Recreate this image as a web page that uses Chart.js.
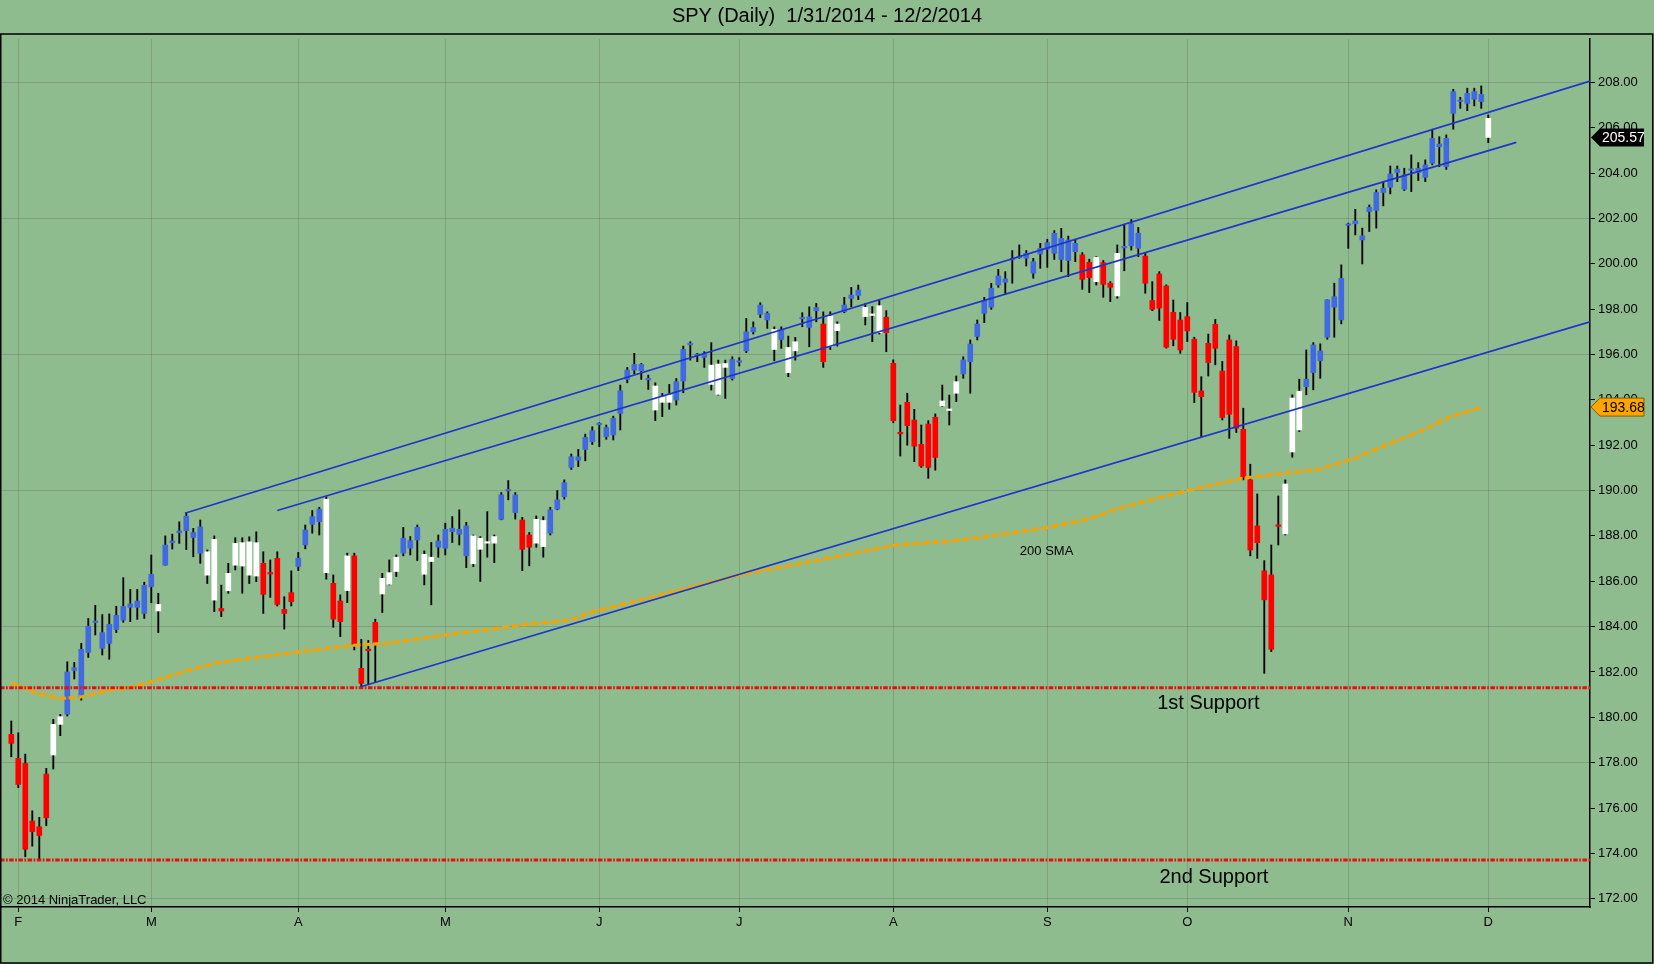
<!DOCTYPE html>
<html>
<head>
<meta charset="utf-8">
<title>SPY (Daily)</title>
<script src="https://cdn.jsdelivr.net/npm/chart.js@4.4.1/dist/chart.umd.min.js"></script>
<style>
	html, body { margin: 0; padding: 0; background: #8fbc8f; }
	canvas { display: block; }
</style>
</head>
<body>
<canvas id="spy-chart" width="1654" height="964"></canvas>
<script>
// 차트
var SPYChart;

// 차트 제목
var chartTitle = 'SPY (Daily)  1/31/2014 - 12/2/2014';

// 봉 시가 (1/30 ~ 12/1)
var opens = [
	179.25, 178.19, 177.97, 175.43, 175.18, 177.50, 178.34, 179.69, 180.14, 182.07,
	180.88, 182.86, 184.18, 183.04, 183.26, 183.87, 184.29, 184.85, 184.85, 184.58,
	185.76, 184.69, 186.71, 187.70, 188.14, 188.23, 187.93, 187.23, 186.27, 185.17,
	184.80, 185.58, 186.71, 186.67, 186.27, 186.23, 186.79, 186.38, 187.01, 184.76,
	185.50, 186.65, 187.60, 188.51, 188.63, 186.38, 185.91, 185.13, 185.59, 187.12,
	182.16, 183.00, 184.19, 185.44, 185.87, 186.43, 187.24, 187.46, 187.82, 186.31,
	186.87, 187.50, 187.46, 188.19, 188.07, 187.12, 186.77, 187.41, 187.68, 187.68,
	188.73, 189.98, 189.03, 188.70, 188.04, 187.68, 187.53, 188.12, 189.18, 189.73,
	191.02, 191.34, 191.81, 192.15, 192.90, 192.37, 192.45, 193.40, 194.90, 195.31,
	195.28, 194.88, 193.55, 193.89, 193.89, 193.99, 194.83, 196.42, 195.95, 195.87,
	194.68, 194.24, 195.43, 194.94, 195.66, 196.16, 197.00, 197.77, 197.52, 196.22,
	196.66, 195.20, 196.16, 197.57, 197.19, 197.93, 197.34, 196.34, 197.05, 197.88,
	198.47, 198.60, 197.67, 197.72, 196.96, 197.64, 195.61, 192.54, 193.89, 193.11,
	192.04, 192.93, 193.23, 193.73, 193.53, 194.29, 195.14, 195.68, 196.79, 197.81,
	198.08, 199.06, 199.18, 200.17, 200.26, 200.24, 199.58, 200.43, 200.64, 200.46,
	200.19, 200.14, 200.53, 200.39, 200.06, 199.21, 200.05, 199.14, 198.58, 200.70,
	200.79, 200.68, 200.34, 198.38, 199.55, 199.02, 197.86, 197.52, 197.67, 196.67,
	194.39, 196.49, 197.33, 195.27, 196.64, 196.35, 192.70, 190.47, 188.44, 186.46,
	186.28, 188.48, 188.09, 191.70, 192.67, 194.58, 195.20, 195.72, 196.76, 198.08,
	197.52, 201.69, 201.76, 201.05, 202.30, 202.35, 203.14, 203.37, 204.02, 203.29,
	204.12, 204.02, 203.81, 204.43, 205.16, 204.28, 206.63, 207.15, 207.07, 207.25,
	207.15, 206.41
];
// 고가
var highs = [
	179.84, 179.32, 178.38, 175.88, 175.59, 177.75, 179.91, 180.13, 182.45, 182.42,
	183.26, 184.36, 184.94, 184.53, 184.56, 184.90, 186.16, 185.64, 185.64, 185.96,
	187.16, 185.47, 188.00, 188.08, 188.62, 189.02, 188.33, 188.70, 187.38, 188.00,
	185.83, 186.79, 187.92, 187.92, 187.96, 188.18, 187.30, 186.94, 187.30, 185.32,
	186.46, 187.27, 188.48, 189.12, 189.26, 189.73, 186.28, 185.40, 187.24, 187.24,
	183.44, 183.39, 184.33, 186.35, 186.94, 187.16, 188.38, 187.97, 188.48, 187.34,
	187.71, 188.04, 188.56, 188.85, 189.15, 188.60, 188.04, 187.97, 189.07, 188.04,
	189.91, 190.44, 189.91, 188.82, 188.15, 188.88, 188.85, 189.26, 190.00, 190.47,
	191.61, 191.81, 192.49, 192.81, 192.99, 192.89, 193.28, 194.65, 195.43, 196.05,
	195.60, 195.09, 194.75, 194.28, 194.68, 194.94, 196.37, 196.56, 196.05, 196.12,
	196.52, 195.75, 195.75, 195.90, 195.86, 197.59, 197.44, 198.28, 197.88, 197.22,
	197.22, 196.81, 196.75, 197.84, 198.10, 198.25, 197.88, 197.88, 197.44, 198.52,
	198.96, 199.06, 198.25, 198.11, 198.43, 197.93, 195.76, 193.77, 194.29, 193.58,
	192.89, 193.08, 193.38, 194.65, 194.21, 195.05, 195.90, 196.64, 197.52, 198.52,
	199.14, 199.75, 199.65, 200.58, 200.83, 200.58, 200.24, 200.90, 201.08, 201.46,
	201.56, 201.22, 201.08, 200.49, 200.20, 200.31, 200.14, 199.21, 200.83, 201.71,
	201.95, 201.60, 200.46, 199.21, 199.65, 199.07, 198.40, 197.85, 198.29, 196.76,
	195.02, 196.90, 197.55, 195.69, 196.86, 196.60, 193.63, 191.16, 189.85, 186.91,
	187.60, 189.76, 190.47, 194.22, 194.91, 196.20, 196.52, 196.47, 198.41, 199.14,
	199.95, 201.79, 202.40, 201.57, 202.59, 203.26, 203.62, 204.31, 204.31, 204.21,
	204.80, 204.46, 204.58, 205.93, 205.60, 205.68, 207.69, 207.34, 207.74, 207.74,
	207.84, 206.56
];
// 저가
var lows = [
	178.26, 176.90, 173.85, 174.32, 173.71, 175.22, 177.72, 179.19, 180.06, 181.69,
	180.76, 182.64, 183.63, 182.75, 182.56, 183.74, 184.19, 184.22, 184.32, 184.36,
	185.05, 183.74, 186.71, 187.42, 187.67, 187.40, 187.08, 186.79, 185.90, 184.66,
	184.44, 185.47, 186.50, 185.47, 185.90, 185.98, 184.58, 185.29, 184.91, 183.89,
	184.91, 186.47, 187.43, 188.12, 188.04, 186.09, 183.97, 183.56, 185.06, 182.97,
	181.33, 181.43, 181.55, 184.62, 185.84, 186.21, 187.12, 187.16, 186.91, 185.84,
	184.96, 187.06, 187.16, 187.71, 187.60, 186.60, 186.65, 185.99, 187.06, 186.82,
	188.71, 189.59, 188.74, 186.47, 186.68, 187.50, 187.06, 188.04, 189.15, 189.62,
	190.93, 191.05, 191.31, 192.03, 191.93, 192.26, 192.23, 192.67, 194.75, 195.14,
	194.90, 194.46, 193.08, 193.26, 193.58, 193.77, 194.31, 195.75, 195.68, 195.43,
	194.43, 194.21, 194.06, 194.87, 195.49, 196.08, 196.90, 197.63, 197.15, 195.72,
	196.27, 195.02, 195.75, 197.22, 196.34, 197.44, 195.43, 196.22, 196.37, 197.84,
	198.10, 198.42, 197.30, 196.56, 196.90, 196.12, 192.99, 191.52, 192.00, 191.27,
	191.02, 190.54, 190.90, 193.70, 192.89, 193.92, 194.95, 194.29, 196.64, 197.40,
	197.99, 198.96, 198.67, 199.14, 200.24, 199.90, 199.36, 199.80, 199.84, 200.19,
	199.65, 199.43, 200.09, 198.87, 198.73, 199.06, 198.52, 198.33, 198.48, 199.69,
	200.60, 200.31, 198.70, 197.93, 197.50, 196.28, 196.38, 196.05, 196.57, 193.88,
	192.38, 195.05, 195.54, 193.11, 192.30, 192.56, 190.47, 187.12, 187.01, 181.94,
	182.90, 187.60, 188.04, 191.47, 192.60, 194.22, 194.44, 194.95, 196.67, 196.76,
	197.35, 200.68, 201.27, 199.99, 201.42, 201.57, 202.55, 203.08, 203.62, 203.23,
	203.18, 203.67, 203.62, 204.36, 204.28, 204.16, 205.93, 206.85, 206.75, 206.96,
	206.85, 205.34
];
// 종가
var closes = [
	178.85, 177.04, 174.18, 174.96, 174.79, 175.57, 179.69, 180.03, 182.00, 182.19,
	183.00, 184.02, 184.24, 183.74, 184.10, 184.50, 184.89, 185.00, 185.13, 185.82,
	186.30, 184.98, 187.60, 187.78, 188.22, 188.87, 188.15, 188.40, 187.30, 187.85,
	184.69, 186.35, 187.67, 187.70, 187.74, 187.70, 185.42, 186.32, 184.98, 184.58,
	185.10, 187.02, 188.26, 188.85, 189.18, 189.62, 184.33, 184.22, 187.12, 183.22,
	181.50, 182.94, 183.27, 186.13, 186.38, 187.06, 187.90, 187.79, 188.38, 187.19,
	187.06, 187.78, 188.29, 188.34, 188.29, 188.44, 188.00, 187.90, 187.74, 187.97,
	189.81, 190.04, 189.81, 187.41, 187.50, 188.73, 188.68, 189.15, 189.59, 190.35,
	191.49, 191.49, 192.34, 192.64, 192.95, 192.78, 193.18, 194.40, 195.31, 195.56,
	195.56, 194.92, 194.61, 194.14, 194.21, 194.80, 196.22, 196.46, 195.99, 196.02,
	195.53, 195.58, 195.60, 195.78, 195.72, 197.00, 197.19, 198.18, 197.81, 197.10,
	197.10, 196.31, 196.56, 197.61, 197.66, 198.07, 195.68, 197.69, 197.34, 198.18,
	198.62, 198.84, 198.08, 197.76, 198.15, 196.96, 193.08, 192.50, 192.86, 191.96,
	191.08, 191.02, 191.46, 193.95, 193.57, 194.80, 195.76, 196.46, 197.34, 198.37,
	198.92, 199.46, 199.33, 200.21, 200.30, 200.46, 200.09, 200.68, 200.93, 201.34,
	201.12, 201.05, 200.90, 199.31, 199.39, 200.28, 199.09, 198.96, 200.46, 200.76,
	201.77, 201.35, 199.14, 197.99, 198.04, 196.32, 196.67, 196.20, 197.04, 194.33,
	194.14, 195.64, 196.27, 193.22, 193.36, 192.75, 190.59, 187.38, 187.70, 185.18,
	183.00, 188.42, 190.29, 194.08, 194.38, 194.91, 196.42, 196.16, 198.41, 198.55,
	199.36, 201.73, 201.89, 201.23, 202.49, 203.14, 203.33, 203.96, 204.17, 203.92,
	204.16, 204.21, 204.36, 205.53, 205.28, 205.53, 207.59, 207.21, 207.51, 207.59,
	207.47, 205.57
];
// 봉 색상 코드 (B 파랑, W 흰색, R 빨강)
var candleCodes = (
	'RRRRRRWWBBBBBBBBBBBB' +
	'BWBBBBBBWWRWWWWWRRRR' +
	'RBBBBWRRWRRRRWWWBBBW' +
	'WBBBBBWWWWBBBRRWWBBB' +
	'BBBBBBBBBBBBWWWBBBBB' +
	'WWWBBBBBBWBWWBBBRWWB' +
	'BBWWWRRRRRRRRWWWBBBB' +
	'BBBBBBBBBBBBBRRWRRWB' +
	'BBRRRRRRRRRRRRRRRRRR' +
	'RRWWWBBBBBBBBBBBBBBB' +
	'BBBBBBBBBBBW'
).split('');

// 200 SMA (봉 번호, 값)
var smaIndex = [0, 4, 7, 10, 14, 17, 20, 25, 29, 34, 39, 44, 49, 54, 59, 64, 68, 73, 80, 83,
	89, 95, 104, 113, 126, 134, 140, 148, 154, 158, 168, 176, 183, 187, 192, 197, 202, 205, 210];
var smaValue = [181.53, 181.03, 180.83, 180.90, 181.20, 181.32, 181.57, 182.05, 182.38, 182.60,
	182.80, 183.00, 183.18, 183.27, 183.50, 183.72, 183.86, 184.08, 184.30, 184.65,
	185.10, 185.58, 186.28, 186.79, 187.58, 187.77, 188.00, 188.37, 188.75, 189.20,
	190.00, 190.55, 190.80, 190.95, 191.43, 192.09, 192.70, 193.19, 193.68];

// 추세선 (시작/끝 봉 번호, 가격)
var upperLineX = [24.8, 225.53];
var upperLineY = [189.00, 208.05];
var middleLineX = [38.0, 215.0];
var middleLineY = [189.12, 205.35];
var lowerLineX = [49.9, 225.53];
var lowerLineY = [181.35, 197.44];

// 지지선
var supportLevels = [181.30, 173.71];
var supportNames = ['1st Support', '2nd Support'];
var supportLabelX = [171, 171.8];
var supportLabelY = [180.6, 172.93];

// X축 월 표시
var xTickPos = [1, 20, 41, 62, 84, 104, 126, 148, 168, 191, 211];
var xTickLabels = ['F', 'M', 'A', 'M', 'J', 'J', 'A', 'S', 'O', 'N', 'D'];
// Y축 눈금
var yTickValues = [172, 174, 176, 178, 180, 182, 184, 186, 188, 190, 192, 194, 196, 198, 200, 202, 204, 206, 208];

// 가격 표시
var lastPrice = 205.57;
var smaLast = 193.68;

var FONT = '"Liberation Sans", Arial, sans-serif';
var BG = '#8fbc8f';
var GRID = 'rgba(105,118,105,0.38)';
var TREND = '#1e34cc';
var SUPPORT = '#e61010';
var bodyColors = { B: '#4169e1', W: '#ffffff', R: '#ff0000' };

initView();

/**
 * 뷰 초기화
 */
function initView() {
	createChart();
}

/**
 * 오른쪽 축 가격 표시 그리기
 */
function drawPriceMarker(ctx, x, y, text, fill, stroke, color) {
	ctx.beginPath();
	ctx.moveTo(x, y);
	ctx.lineTo(x + 9, y - 9);
	ctx.lineTo(x + 53, y - 9);
	ctx.lineTo(x + 53, y + 9);
	ctx.lineTo(x + 9, y + 9);
	ctx.closePath();
	ctx.fillStyle = fill;
	ctx.fill();
	if (stroke) {
		ctx.strokeStyle = stroke;
		ctx.lineWidth = 1;
		ctx.stroke();
	}
	ctx.fillStyle = color;
	ctx.font = '14px ' + FONT;
	ctx.textAlign = 'left';
	ctx.textBaseline = 'middle';
	ctx.fillText(text, x + 11, y + 1);
}

/**
 * 차트 생성하기
 */
function createChart() {
	var canvas = document.getElementById('spy-chart');

	var backgroundPlugin = {
		id : 'ntBackground',
		beforeDraw : function(chart) {
			var ctx = chart.ctx;
			ctx.save();
			ctx.fillStyle = BG;
			ctx.fillRect(0, 0, chart.width, chart.height);
			ctx.restore();
		}
	};

	var notePlugin = {
		id : 'ntNotes',
		afterDatasetsDraw : function(chart) {
			var ctx = chart.ctx;
			var xs = chart.scales.x;
			var ys = chart.scales.y;
			ctx.save();
			ctx.fillStyle = '#000';
			ctx.textAlign = 'center';
			ctx.textBaseline = 'middle';
			ctx.font = '20px ' + FONT;
			for (var k = 0; k < supportNames.length; k++) {
				ctx.fillText(supportNames[k], xs.getPixelForValue(supportLabelX[k]), ys.getPixelForValue(supportLabelY[k]));
			}
			ctx.font = '13px ' + FONT;
			ctx.fillText('200 SMA', xs.getPixelForValue(147.9), ys.getPixelForValue(187.3));
			ctx.textAlign = 'left';
			ctx.fillText('\u00a9 2014 NinjaTrader, LLC', chart.chartArea.left + 3, chart.chartArea.bottom - 7);
			ctx.restore();
		},
		afterDraw : function(chart) {
			var ctx = chart.ctx;
			var ys = chart.scales.y;
			var x0 = chart.chartArea.right + 1;
			ctx.save();
			drawPriceMarker(ctx, x0, ys.getPixelForValue(lastPrice), lastPrice.toFixed(2), '#000', null, '#fff');
			drawPriceMarker(ctx, x0, ys.getPixelForValue(smaLast), smaLast.toFixed(2), '#ffa500', '#8a5a00', '#000');
			// 바깥 테두리
			ctx.strokeStyle = '#000';
			ctx.lineWidth = 1.5;
			ctx.strokeRect(0.75, 34, chart.width - 2, chart.height - 35);
			ctx.restore();
		}
	};

	var wickData = highs.map(function(h, i) {
		return { x : i, y : [lows[i], h] };
	});
	var bodyData = opens.map(function(o, i) {
		return { x : i, y : [Math.min(o, closes[i]), Math.max(o, closes[i])] };
	});
	var smaData = smaIndex.map(function(v, i) {
		return { x : v, y : smaValue[i] };
	});

	function lineSet(xArr, yArr, color, width, dash) {
		return {
			type : 'line',
			data : [ { x : xArr[0], y : yArr[0] }, { x : xArr[1], y : yArr[1] } ],
			borderColor : color,
			borderWidth : width,
			borderDash : dash || [],
			borderCapStyle : 'butt',
			pointRadius : 0,
			fill : false,
			order : 0
		};
	}

	var lastX = 225.53;

	SPYChart = new Chart(canvas, {
		type : 'bar',
		data : {
			datasets : [ {
				label : 'wick',
				data : wickData,
				backgroundColor : '#000',
				grouped : false,
				barPercentage : 1,
				categoryPercentage : 1,
				maxBarThickness : 1.2,
				order : 3
			}, {
				label : 'body',
				data : bodyData,
				backgroundColor : candleCodes.map(function(c) { return bodyColors[c]; }),
				grouped : false,
				barPercentage : 1,
				categoryPercentage : 1,
				maxBarThickness : 5,
				minBarLength : 1.5,
				order : 2
			}, {
				type : 'line',
				label : '200 SMA',
				data : smaData,
				borderColor : '#f5a300',
				borderWidth : 3.2,
				borderDash : [ 7.5, 2.5 ],
				borderCapStyle : 'butt',
				pointRadius : 0,
				fill : false,
				order : 1
			},
			lineSet(upperLineX, upperLineY, TREND, 1.7),
			lineSet(middleLineX, middleLineY, TREND, 1.7),
			lineSet(lowerLineX, lowerLineY, TREND, 1.7),
			lineSet([-1.614, lastX], [supportLevels[0], supportLevels[0]], SUPPORT, 3, [ 4.5, 1.5, 1.7, 1.5 ]),
			lineSet([-1.614, lastX], [supportLevels[1], supportLevels[1]], SUPPORT, 3, [ 4.5, 1.5, 1.7, 1.5 ])
			]
		},
		options : {
			responsive : false,
			devicePixelRatio : 1,
			animation : false,
			layout : { padding : 0 },
			plugins : {
				legend : { display : false },
				tooltip : { enabled : false },
				title : {
					display : true,
					text : chartTitle,
					color : '#000',
					font : { family : FONT, size : 20, weight : 'normal' },
					padding : { top : 4, bottom : 11 }
				}
			},
			scales : {
				x : {
					type : 'linear',
					min : -1.614,
					max : lastX,
					offset : false,
					afterBuildTicks : function(s) {
						s.ticks = xTickPos.map(function(v) { return { value : v }; });
					},
					afterFit : function(s) { s.height = 57; },
					grid : { color : GRID, tickColor : '#000', tickLength : 5, offset : false },
					border : { display : true, color : '#000', width : 1.5 },
					ticks : {
						color : '#000',
						font : { family : FONT, size : 13 },
						padding : 3,
						maxRotation : 0,
						autoSkip : false,
						callback : function(v, idx) { return xTickLabels[idx]; }
					}
				},
				y : {
					position : 'right',
					min : 171.638,
					max : 209.909,
					afterBuildTicks : function(s) {
						s.ticks = yTickValues.map(function(v) { return { value : v }; });
					},
					afterFit : function(s) { s.width = 64; },
					grid : {
						color : function(c) {
							return (c.tick && (c.tick.value - 172) % 6 === 0) ? GRID : 'rgba(0,0,0,0)';
						},
						tickColor : '#000',
						tickLength : 5
					},
					border : { display : true, color : '#000', width : 1.5 },
					ticks : {
						color : '#000',
						font : { family : FONT, size : 13 },
						padding : 3,
						autoSkip : false,
						callback : function(v) { return Number(v).toFixed(2); }
					}
				}
			}
		},
		plugins : [ backgroundPlugin, notePlugin ]
	});
}
</script>
</body>
</html>
